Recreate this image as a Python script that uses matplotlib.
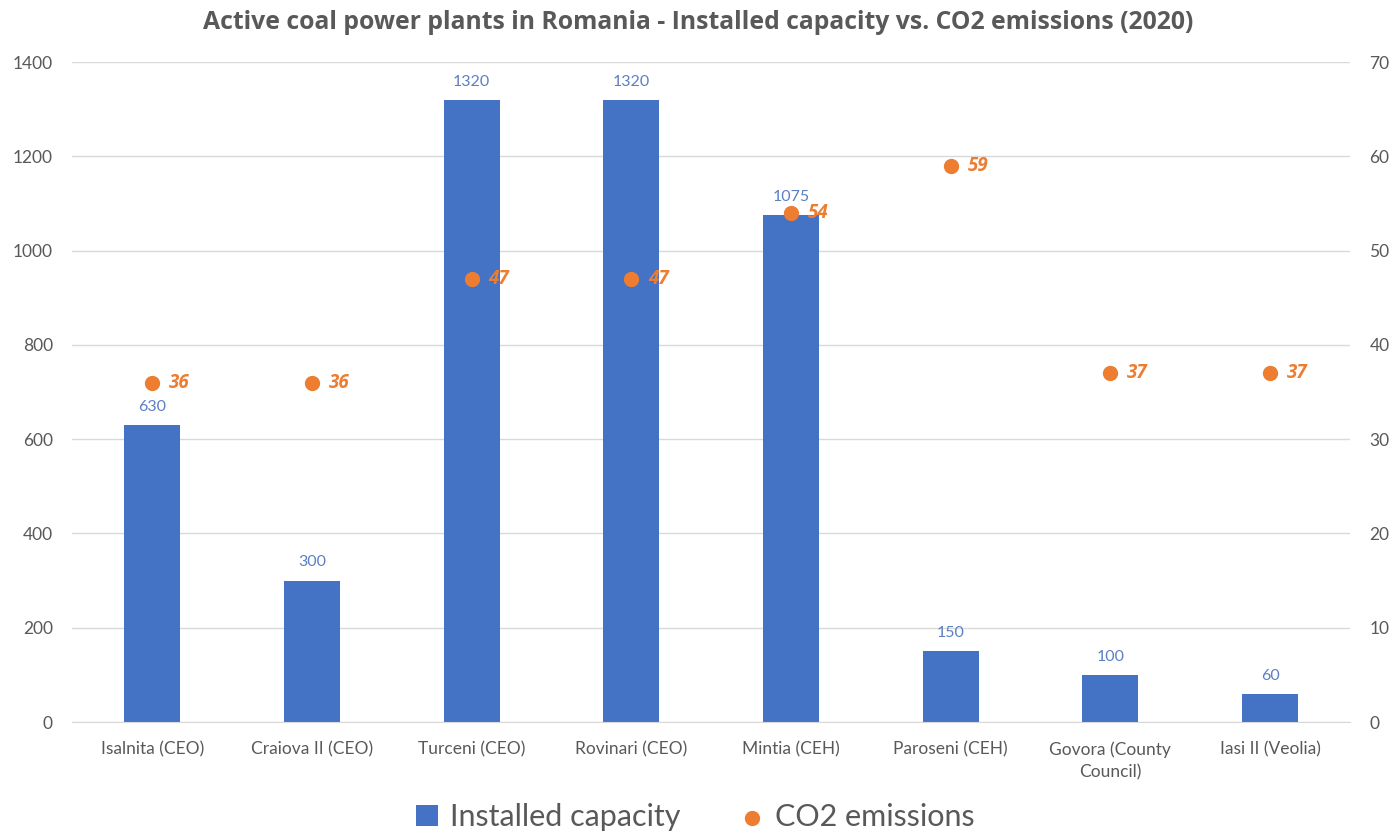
import matplotlib.pyplot as plt
import numpy as np

plants = ['Isalnita (CEO)', 'Craiova II (CEO)', 'Turceni (CEO)', 'Rovinari (CEO)',
          'Mintia (CEH)', 'Paroseni (CEH)', 'Govora (County\nCouncil)', 'Iasi II (Veolia)']
capacity = [630, 300, 1320, 1320, 1075, 150, 100, 60]
co2 = [36, 36, 47, 47, 54, 59, 37, 37]

blue = '#4472C4'
orange = '#ED7D31'
grey = '#595959'

plt.rcParams['font.family'] = ['Lato', 'DejaVu Sans']

fig = plt.figure(figsize=(13.91, 8.38), dpi=100)
ax = fig.add_axes([0.052, 0.1384, 0.9185, 0.7876])
ax2 = ax.twinx()

x = np.arange(len(plants))
bars = ax.bar(x, capacity, width=0.35, color=blue, zorder=2, label='Installed capacity')
for xi, v in zip(x, capacity):
    ax.annotate(str(v), (xi, v), xytext=(0, 8), textcoords='offset points',
                ha='center', va='bottom', fontsize=11.5, color='#5B7FC4')

sc = ax2.scatter(x, co2, s=100, color=orange, zorder=3, label='CO2 emissions')
for xi, v in zip(x, co2):
    ax2.annotate(str(v), (xi, v), xytext=(12, 0), textcoords='offset points',
                 ha='left', va='center', fontsize=13.5, color=orange,
                 fontweight='bold', fontstyle='italic',
                 family=['Open Sans', 'DejaVu Sans'])

ax.set_xlim(-0.5, len(plants) - 0.5)
ax.set_ylim(0, 1400)
ax2.set_ylim(0, 70)
ax.set_yticks(np.arange(0, 1401, 200))
ax2.set_yticks(np.arange(0, 71, 10))
ax.set_xticks(x)
ax.set_xticklabels(plants, linespacing=1.5)

ax.grid(axis='y', color='#d9d9d9', linewidth=1, zorder=0)
ax.set_axisbelow(True)
for a in (ax, ax2):
    for s in a.spines.values():
        s.set_visible(False)
    a.tick_params(length=0, labelsize=12.5, labelcolor=grey)
ax.spines['bottom'].set_visible(True)
ax.spines['bottom'].set_color('#d9d9d9')
ax.tick_params(axis='x', pad=14)
ax.tick_params(axis='y', pad=14)
ax2.tick_params(axis='y', pad=14)

fig.suptitle('Active coal power plants in Romania - Installed capacity vs. CO2 emissions (2020)',
             x=0.502, y=0.988, fontsize=17.8, fontweight='bold', color=grey,
             family=['Open Sans', 'DejaVu Sans'])

handles = [bars, sc]
fig.legend(handles, ['Installed capacity', 'CO2 emissions'], loc='lower center',
           bbox_to_anchor=(0.5, -0.025), ncol=2, frameon=False, fontsize=22,
           labelcolor=grey, handlelength=0.7, handleheight=0.7, handletextpad=0.4,
           columnspacing=2.0, markerscale=1.0)

fig.savefig('out.png', dpi=100)
